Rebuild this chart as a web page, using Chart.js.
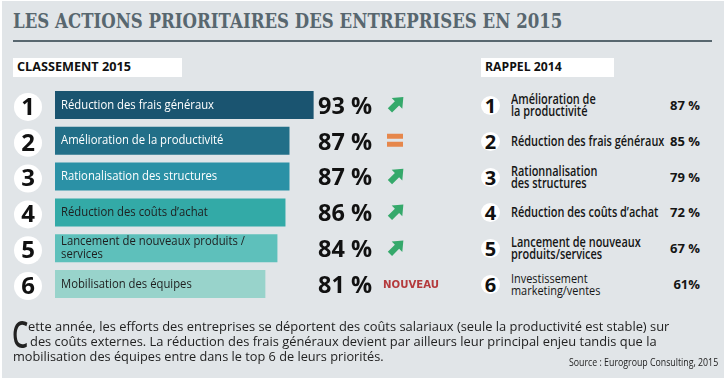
<!DOCTYPE html>
<html lang="fr">
<head>
<meta charset="utf-8">
<title>Les actions prioritaires des entreprises en 2015</title>
<script src="https://cdn.jsdelivr.net/npm/chart.js@4.4.1/dist/chart.umd.min.js"></script>
<style>
  html, body { margin: 0; padding: 0; background: #fff; }
  body { width: 726px; height: 382px; position: relative; overflow: hidden; font-family: "Open Sans", sans-serif; color: #1e1e1e; }
  #panel { position: absolute; left: 2px; top: 1px; width: 722px; height: 377px; background: #e1e5e8; }
  .abs { position: absolute; white-space: nowrap; }
  .fit { display: inline-block; transform-origin: 0 50%; }
  #title { left: 13px; top: 9px; font: bold 20px/24px "DejaVu Serif", serif; color: #58676f; }
  #rule { left: 13px; top: 40px; width: 699px; height: 2px; background: #58676f; }
  .box { background: #fff; top: 58px; height: 19px; }
  .boxtxt { top: 56px; font: bold 13px/21px "Open Sans", sans-serif; color: #111; }
  #chart { position: absolute; left: 0; top: 80px; }
  .rrow { position: absolute; left: 476px; width: 226px; height: 34px; display: flex; align-items: center; }
  .rnum { position: absolute; left: 5px; top: 8px; width: 19px; height: 19px; border-radius: 50%; background: #fff;
          font: bold 20px/19px "Open Sans", sans-serif; text-align: center; color: #111; }
  .rlab { position: absolute; left: 35px; font: 600 13.5px/12px "Open Sans", sans-serif; color: #151515; white-space: pre; }
  .rlab.light { font-weight: 400; }
  .rpct { position: absolute; right: 2px; font: bold 13px/16px "Open Sans", sans-serif; color: #151515; }
  .para { font: 13.5px/15px "Open Sans", sans-serif; color: #222; }
  #dropcap { left: 12px; top: 314px; font: 600 37px/40px "Open Sans", sans-serif; color: #222; }
  #source { font: 10.5px/14px "Open Sans", sans-serif; color: #222; }
</style>
</head>
<body>
<div id="panel"></div>
<div class="abs" id="title"><span class="fit" data-w="549">LES ACTIONS PRIORITAIRES DES ENTREPRISES EN 2015</span></div>
<div class="abs" id="rule"></div>

<div class="abs box" style="left:13px;width:169px;"></div>
<div class="abs boxtxt" style="left:17px;"><span class="fit" data-w="114">CLASSEMENT 2015</span></div>
<div class="abs box" style="left:481px;width:133px;"></div>
<div class="abs boxtxt" style="left:485px;"><span class="fit" data-w="77">RAPPEL 2014</span></div>

<canvas id="chart" width="460" height="230"></canvas>

<div id="rappel"></div>

<div class="abs" id="dropcap"><span class="fit" data-w="16">C</span></div>
<div class="abs para" style="left:28px;top:319px;"><span class="fit" data-w="641">ette année, les efforts des entreprises se déportent des coûts salariaux (seule la productivité est stable) sur</span></div>
<div class="abs para" style="left:30px;top:334px;"><span class="fit" data-w="627">des coûts externes. La réduction des frais généraux devient par ailleurs leur principal enjeu tandis que la</span></div>
<div class="abs para" style="left:13px;top:349px;"><span class="fit" data-w="371">mobilisation des équipes entre dans le top 6 de leurs priorités.</span></div>
<div class="abs" id="source" style="left:569px;top:355px;"><span class="fit" data-w="149">Source : Eurogroup Consulting, 2015</span></div>

<script>
// classement 2015
const ranks = [1, 2, 3, 4, 5, 6];
const labels2015 = [
  "Réduction des frais généraux",
  "Amélioration de la productivité",
  "Rationalisation des structures",
  "Réduction des coûts d’achat",
  "Lancement de nouveaux produits /\nservices",
  "Mobilisation des équipes",
];
const values2015 = [93, 87, 87, 86, 84, 81];
const trends2015 = ["up", "eq", "up", "up", "up", "new"];
const barColors = ["#1a5470", "#226f88", "#2b91a6", "#33aaa7", "#5ec0bb", "#98d3cb"];
const labelColors = ["#fff", "#fff", "#fff", "#1e1e1e", "#1e1e1e", "#1e1e1e"];

// rappel 2014
const labels2014 = [
  "Amélioration de\nla productivité",
  "Réduction des frais généraux",
  "Rationnalisation\ndes structures",
  "Réduction des coûts d’achat",
  "Lancement de nouveaux\nproduits/services",
  "Investissement\nmarketing/ventes",
];
const values2014 = [87, 85, 79, 72, 67, 61];

const el = (id) => document.getElementById(id);

function scaledText(ctx, txt, x, y, sx) {
  ctx.save();
  ctx.translate(x, y);
  ctx.scale(sx, 1);
  ctx.fillText(txt, 0, 0);
  ctx.restore();
}

function drawArrow(ctx, cx, cy) {
  ctx.save();
  ctx.translate(cx, cy);
  ctx.rotate(-Math.PI / 4);
  ctx.fillStyle = "#35a96b";
  ctx.beginPath();
  ctx.moveTo(-10, -3);
  ctx.lineTo(0, -3);
  ctx.lineTo(0, -7.5);
  ctx.lineTo(9, 0);
  ctx.lineTo(0, 7.5);
  ctx.lineTo(0, 3);
  ctx.lineTo(-10, 3);
  ctx.closePath();
  ctx.fill();
  ctx.restore();
}

const overlay = {
  id: "overlay",
  afterDatasetsDraw(chart) {
    const ctx = chart.ctx;
    const meta = chart.getDatasetMeta(0);
    const left = chart.chartArea.left;
    ctx.save();
    ctx.font = '13px "Open Sans"';
    const labSx = 153 / ctx.measureText(labels2015[0]).width;
    ctx.font = 'bold 24px "Open Sans"';
    const pctSx = 54 / ctx.measureText(values2015[0] + " %").width;
    ctx.textBaseline = "middle";

    meta.data.forEach((bar, i) => {
      const y = bar.y;
      // rank badge
      ctx.fillStyle = "#fff";
      ctx.beginPath();
      ctx.arc(28, y + 2, 14, 0, Math.PI * 2);
      ctx.fill();
      ctx.fillStyle = "#111";
      ctx.font = 'bold 24px "Open Sans"';
      ctx.textAlign = "center";
      ctx.fillText(String(ranks[i]), 28, y + 3);

      // label in bar
      ctx.textAlign = "left";
      ctx.font = '13px "Open Sans"';
      ctx.fillStyle = labelColors[i];
      const lines = labels2015[i].split("\n");
      lines.forEach((ln, k) => {
        const ly = y + (k - (lines.length - 1) / 2) * 13;
        scaledText(ctx, ln, left + 6, ly, labSx);
      });

      // value
      ctx.font = 'bold 24px "Open Sans"';
      ctx.fillStyle = "#111";
      scaledText(ctx, values2015[i] + " %", 318, y + 2, pctSx);

      // trend
      const t = trends2015[i];
      if (t === "up") {
        drawArrow(ctx, 397, y - 1.5);
      } else if (t === "eq") {
        ctx.fillStyle = "#e6874b";
        ctx.fillRect(387, y - 7, 16, 5);
        ctx.fillRect(387, y + 1, 16, 5);
      } else if (t === "new") {
        ctx.font = 'bold 10px "DejaVu Sans"';
        ctx.fillStyle = "#b43a3c";
        const s = 56 / ctx.measureText("NOUVEAU").width;
        scaledText(ctx, "NOUVEAU", 383, y + 1, s);
      }
    });
    ctx.restore();
  },
};

new Chart(el("chart"), {
  type: "bar",
  data: {
    labels: labels2015,
    datasets: [{
      data: values2015,
      backgroundColor: barColors,
      borderWidth: 0,
      barPercentage: 0.78,
      categoryPercentage: 1,
    }],
  },
  options: {
    indexAxis: "y",
    responsive: false,
    animation: false,
    events: [],
    layout: { padding: { left: 55, right: 78, top: 7, bottom: 8 } },
    scales: {
      x: { display: false, min: 28.7, max: 110 },
      y: { display: false },
    },
    plugins: { legend: { display: false }, tooltip: { enabled: false } },
  },
  plugins: [overlay],
});

function buildRappel() {
  const box = el("rappel");
  labels2014.forEach((lab, i) => {
    const cy = 87 + 35.83 * (i + 0.5);
    const row = document.createElement("div");
    row.className = "rrow";
    row.style.top = (cy - 17) + "px";
    const pct = i === 5 ? `${values2014[i]}%` : `${values2014[i]} %`;
    row.innerHTML = `
      <div class="rnum">${i + 1}</div>
      <div class="rlab${i === 5 ? " light" : ""}"><span class="fit rl">${lab}</span></div>
      <div class="rpct">${pct}</div>`;
    box.appendChild(row);
  });
}

function fitTexts() {
  document.querySelectorAll(".fit[data-w]").forEach((s) => {
    const w = s.offsetWidth;
    if (w) s.style.transform = `scaleX(${+s.dataset.w / w})`;
  });
  // rappel labels share one squeeze, taken from the single-line row 2
  const rl = document.querySelectorAll(".rl");
  const ref = rl[1].offsetWidth;
  if (ref) {
    const s = 153 / ref;
    rl.forEach((r) => (r.style.transform = `scaleX(${s})`));
  }
}

buildRappel();
fitTexts();
if (document.fonts) document.fonts.ready.then(fitTexts);
</script>
</body>
</html>
